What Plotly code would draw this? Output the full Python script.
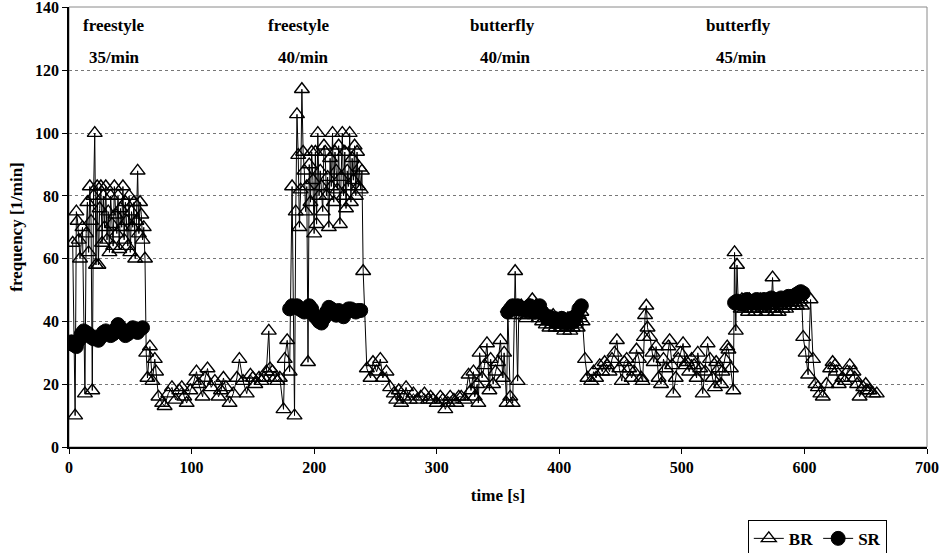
import plotly.graph_objects as go

# ---------------- data ----------------
# BR (breathing rate) time [s] and values [1/min], by phase
br_time_a = [3, 5, 6, 7, 8, 9, 11,
             13, 14, 15, 16, 17, 18, 19, 20, 21, 22,
             23, 24, 25, 26, 27, 28, 29, 30, 31, 32,
             33, 34, 35, 36, 37, 38, 39, 40, 41, 42,
             43, 44, 45, 46, 47, 48, 49, 50, 51, 52,
             53, 54, 55, 56, 57, 58, 59, 60, 61, 62]
br_rate_a = [65, 10, 75, 72, 66, 60, 70,
             17, 68, 78, 62, 83, 72, 18, 80, 100, 58,
             83, 58, 76, 83, 65, 80, 70, 83, 66, 75,
             62, 80, 71, 64, 83, 74, 68, 80, 63, 76,
             70, 83, 66, 78, 72, 64, 80, 62, 75, 70,
             78, 60, 72, 88, 68, 78, 74, 66, 70, 60]

br_time_b = [63, 64, 66, 68, 70, 71, 73, 76, 78, 81,
             84, 87, 90, 92, 94, 96, 99, 102, 104, 106,
             109, 111, 113, 116, 119, 122, 124, 126, 128, 131,
             134, 137, 139, 142, 145, 148, 150, 152, 155, 157,
             159, 161, 163, 164, 166, 168, 170, 172, 175, 176,
             178]
br_rate_b = [30, 22, 32, 21, 28, 24, 16, 14, 13, 17,
             19, 15, 18, 19, 16, 14, 18, 21, 24, 20,
             16, 22, 25, 19, 21, 16, 18, 22, 19, 14,
             17, 22, 28, 21, 17, 23, 22, 20, 22, 21,
             22, 24, 37, 25, 24, 22, 21, 22, 12, 28,
             34]

br_time_c = [180, 182, 184,
             185, 186, 187, 188, 189, 190, 191, 192, 193, 194,
             195, 196, 197, 198, 199, 200, 201, 202, 203, 204,
             205, 206, 207, 208, 209, 210, 211, 212, 213, 214,
             215, 216, 217, 218, 219, 220, 221, 222, 223, 224,
             225, 226, 227, 228, 229, 230, 231, 232, 233, 234,
             235, 236, 237, 238, 239, 240,
             243]
br_rate_c = [24, 83, 10,
             75, 106, 93, 70, 82, 114, 94, 88, 75, 83,
             27, 90, 78, 94, 85, 68, 94, 71, 100, 80,
             88, 83, 75, 96, 94, 80, 86, 70, 92, 83,
             100, 78, 94, 88, 82, 96, 71, 86, 100, 80,
             94, 76, 88, 83, 100, 78, 92, 85, 96, 80,
             94, 83, 89, 82, 88, 56,
             25]

br_time_d = [246, 248, 251, 254, 256, 259, 262, 265, 267, 269,
             271, 273, 275, 278, 281, 284, 287, 290, 293, 295,
             297, 300, 303, 305, 307, 309, 311, 314, 316, 318,
             320, 323, 326, 328]
br_rate_d = [22, 27, 24, 28, 22, 24, 19, 17, 15, 18,
             14, 16, 19, 15, 17, 15, 16, 17, 15, 16,
             15, 14, 16, 15, 12, 14, 16, 15, 14, 16,
             16, 15, 23, 18]

br_time_e = [330, 331, 333, 334, 335, 337, 339, 341, 343, 344,
             346, 348, 350, 352, 354, 355, 357, 358, 360, 362,
             363, 364, 366,
             367, 368, 369, 370, 371, 372, 373, 374, 375, 376,
             377, 378, 379, 380, 381, 382, 383, 384, 385, 386,
             387, 388, 389, 390, 391, 392, 393, 394, 395, 396,
             397, 398, 399, 400, 401, 402, 403, 404, 405, 406,
             407, 408, 409, 410, 411, 412, 413, 414, 415, 416,
             417, 418, 419,
             421, 423]
br_rate_e = [24, 16, 20, 14, 30, 22, 26, 33, 18, 28,
             20, 24, 27, 34, 22, 30, 14, 44, 16, 14,
             42, 56, 21,
             44, 43, 45, 42, 44, 43, 41, 44, 42, 45,
             43, 47, 44, 42, 45, 43, 41, 44, 42, 40,
             43, 41, 39, 42, 40, 38, 41, 39, 42, 40,
             38, 41, 39, 40, 38, 41, 39, 37, 40, 38,
             41, 39, 37, 40, 38, 41, 39, 40, 38, 42,
             41, 43, 40,
             28, 22]

br_time_f = [426, 428, 430, 433, 435, 437, 439, 441, 443, 445,
             447, 449, 451, 453, 455, 457, 459, 461, 463, 465,
             467, 468, 469, 470, 471, 472, 474, 476, 477, 479,
             481, 483, 485, 487, 489, 490, 492, 493, 495, 497,
             499, 501, 503, 504, 506, 508, 510, 512, 513, 515,
             517, 519, 521, 523, 525, 527, 528, 530, 532, 533,
             535, 537, 538, 540, 542]
br_rate_f = [21, 24, 22, 26, 24, 27, 26, 24, 28, 30,
             34, 25, 21, 27, 28, 25, 22, 24, 31, 28,
             22, 21, 35, 42, 45, 38, 35, 30, 27, 32,
             22, 20, 28, 25, 32, 34, 26, 17, 22, 28,
             30, 33, 26, 27, 24, 28, 26, 22, 30, 25,
             17, 24, 33, 28, 22, 19, 27, 25, 20, 24,
             28, 32, 31, 25, 18]

br_time_g = [543, 544, 545,
             546, 547, 548, 549, 550, 551, 552, 553, 554, 555,
             556, 557, 558, 559, 560, 561, 562, 563, 564, 565,
             566, 567, 568, 569, 570, 571, 572, 573, 574, 575,
             576, 577, 578, 579, 580, 581, 582, 583, 584, 585,
             586, 587, 588, 589, 590, 591, 592, 593, 594, 595,
             596, 597, 598,
             599, 601, 603, 605, 607, 609]
br_rate_g = [62, 37, 58,
             46, 45, 44, 47, 45, 44, 46, 45, 43, 47,
             45, 44, 46, 44, 43, 46, 45, 44, 47, 45,
             44, 46, 45, 43, 47, 45, 44, 46, 54, 44,
             43, 46, 45, 43, 47, 45, 44, 46, 45, 44,
             47, 46, 45, 48, 46, 45, 47, 46, 45, 48,
             46, 47, 45,
             35, 30, 23, 47, 28, 20]

br_time_h = [611, 613, 615, 618, 621, 623, 625, 626, 628, 631,
             633, 635, 637, 640, 641, 643, 645, 648, 650, 651,
             653, 656, 659]
br_rate_h = [19, 17, 16, 20, 25, 27, 26, 24, 20, 22,
             21, 24, 26, 24, 22, 20, 16, 19, 20, 18,
             18, 17, 17]

# SR (stroke rate) time [s] and values [1/min], by swimming bout
sr_time_1 = [1, 2, 4, 6, 8, 10, 12, 14, 16, 18,
             20, 22, 24, 26, 28, 30, 32, 34, 36, 38,
             40, 42, 44, 46, 48, 50, 52, 54, 56, 58, 60]
sr_rate_1 = [33, 33.5, 32.5, 32, 34, 36, 37, 36.5, 36, 35,
             34.5, 35, 34, 35, 36.5, 37, 36, 35.5, 36, 37.5,
             39, 38, 36.5, 35.5, 36, 37, 38, 37, 36.5, 37.5, 38]

sr_time_2 = [180, 182, 184, 186, 188, 190, 192, 194, 196, 198,
             200, 202, 204, 206, 208, 210, 212, 214, 216, 218,
             220, 222, 224, 226, 228, 230, 232, 234, 236, 238]
sr_rate_2 = [44, 45, 44.5, 45, 44, 43.5, 43, 44, 45, 44,
             42, 41, 40, 39.5, 41, 43, 44.5, 44, 43, 42,
             43.5, 42.5, 41.5, 43, 44, 44, 43.5, 43, 43.5, 43.5]

sr_time_3 = [358, 360, 362, 364, 366, 368, 370, 372, 374, 376,
             378, 380, 382, 384, 386, 388, 390, 392, 394, 396,
             398, 400, 402, 404, 406, 408, 410, 412, 414, 416, 418]
sr_rate_3 = [43, 44, 45, 44, 45, 44.5, 44, 43.5, 44, 45,
             44, 43, 44, 45, 43, 42, 41, 41.5, 41, 40,
             40.5, 40, 41, 40, 39.5, 40.5, 41, 40, 42, 44, 45]

sr_time_4 = [543, 545, 547, 549, 551, 553, 555, 557, 559, 561,
             563, 565, 567, 569, 571, 573, 575, 577, 579, 581,
             583, 585, 587, 589, 591, 593, 595, 597, 599]
sr_rate_4 = [46, 46.5, 46, 45.5, 46, 47, 46.5, 46, 46.5, 47,
             46, 46.5, 47, 46.5, 47, 47.5, 47, 46.5, 47, 47.5,
             47, 47.5, 48, 47.5, 48, 48.5, 49, 49.5, 49]

stage_styles = ["freestyle", "freestyle", "butterfly", "butterfly"]
stage_rates = ["35/min", "40/min", "40/min", "45/min"]
stage_x_style = [36, 187, 354, 546]
stage_x_rate = [37, 191, 356, 549]

y_ticks = [0, 20, 40, 60, 80, 100, 120, 140]
x_ticks = [0, 100, 200, 300, 400, 500, 600, 700]

# ---------------- assemble ----------------
br_time = br_time_a + br_time_b + br_time_c + br_time_d + br_time_e + br_time_f + br_time_g + br_time_h
br_rate = br_rate_a + br_rate_b + br_rate_c + br_rate_d + br_rate_e + br_rate_f + br_rate_g + br_rate_h

sr_time, sr_rate = [], []
for ts, vs in [(sr_time_1, sr_rate_1), (sr_time_2, sr_rate_2),
               (sr_time_3, sr_rate_3), (sr_time_4, sr_rate_4)]:
    sr_time += ts + [None]
    sr_rate += vs + [None]

FONT = "Liberation Serif, Times New Roman, serif"

fig = go.Figure()
fig.add_trace(go.Scatter(
    x=br_time, y=br_rate, name="BR", mode="lines+markers",
    line=dict(color="black", width=1),
    marker=dict(symbol="triangle-up-open", size=13, color="black",
                line=dict(color="black", width=1.4)),
))
fig.add_trace(go.Scatter(
    x=sr_time, y=sr_rate, name="SR", mode="lines+markers",
    connectgaps=False,
    line=dict(color="black", width=1),
    marker=dict(symbol="circle", size=14, color="black",
                line=dict(color="black", width=1)),
))

annotations = []
for name, rate, xs, xr in zip(stage_styles, stage_rates, stage_x_style, stage_x_rate):
    annotations.append(dict(x=xs, y=134.3, xref="x", yref="y", text=name,
                            showarrow=False, font=dict(family=FONT, size=17, weight="bold", color="black")))
    annotations.append(dict(x=xr, y=124.1, xref="x", yref="y", text=rate,
                            showarrow=False, font=dict(family=FONT, size=17, weight="bold", color="black")))

fig.update_layout(
    width=949, height=553, autosize=False,
    margin=dict(l=69, r=22, t=7, b=106, autoexpand=False),
    paper_bgcolor="white", plot_bgcolor="white",
    font=dict(family=FONT, size=16, color="black", weight="bold"),
    annotations=annotations,
    showlegend=True,
    legend=dict(orientation="h", xref="container", yref="container",
                x=0.788, y=0.060, xanchor="left", yanchor="top",
                bordercolor="black", borderwidth=1, bgcolor="white",
                font=dict(family=FONT, size=17, weight="bold", color="black"),
                itemwidth=30, tracegroupgap=0),
    shapes=[dict(type="rect", xref="paper", yref="paper", x0=0, y0=0, x1=1, y1=1,
                 line=dict(color="#8a8a8a", width=1), layer="below")],
)
fig.update_xaxes(
    range=[0, 700], tickmode="array", tickvals=x_ticks,
    showgrid=False, zeroline=False, automargin=False,
    showline=True, linecolor="black", linewidth=1.5,
    ticks="outside", ticklen=5, tickcolor="black",
    ticklabeloverflow="allow",
    tickfont=dict(family=FONT, size=16, weight="bold"),
    title=dict(text="time [s]", font=dict(family=FONT, size=17, weight="bold"), standoff=14),
)
fig.update_yaxes(
    range=[0, 140.2], tickmode="array", tickvals=y_ticks,
    showgrid=True, gridcolor="#777777", griddash="dot", gridwidth=1,
    zeroline=False, automargin=False,
    showline=True, linecolor="black", linewidth=1.5,
    ticks="outside", ticklen=5, tickcolor="black",
    ticklabeloverflow="allow",
    tickfont=dict(family=FONT, size=16, weight="bold"),
    title=dict(text="frequency [1/min]", font=dict(family=FONT, size=17, weight="bold"), standoff=8),
)

fig.write_html("out.html")
